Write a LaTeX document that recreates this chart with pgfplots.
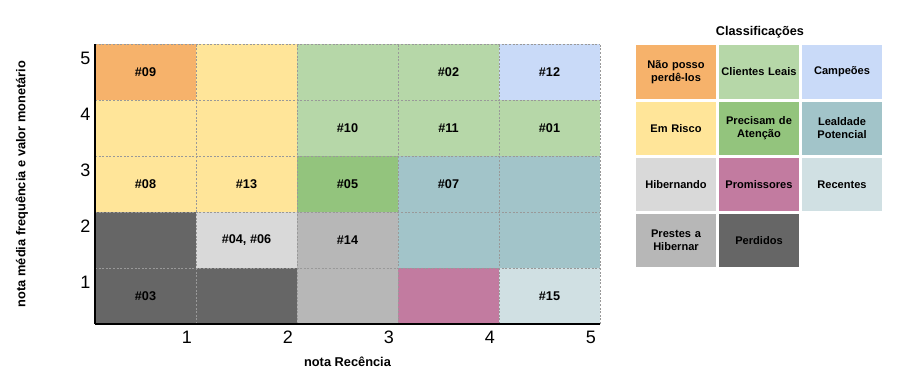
\documentclass[border=0pt]{standalone}
\usepackage{fontspec}
\setmainfont{Liberation Sans}
\usepackage{pgfplots}
\pgfplotsset{compat=1.18}
\definecolor{cOrange}{HTML}{F6B26B}
\definecolor{cYellow}{HTML}{FFE599}
\definecolor{cLGreen}{HTML}{B6D7A8}
\definecolor{cBlue}{HTML}{C9DAF8}
\definecolor{cGreen}{HTML}{93C47D}
\definecolor{cTeal}{HTML}{A2C4C9}
\definecolor{cLGray}{HTML}{D9D9D9}
\definecolor{cPink}{HTML}{C27BA0}
\definecolor{cRec}{HTML}{D0E0E3}
\definecolor{cGray}{HTML}{B7B7B7}
\definecolor{cDGray}{HTML}{666666}
\newcommand\lbox[4]{\node[fill=#3, minimum width=60pt, minimum height=40pt, inner sep=0pt, align=center, text width=58pt, font=\fontsize{8.3}{9.8}\selectfont\bfseries] at (#1,#2) {#4};}
\begin{document}
\begin{tikzpicture}
\useasboundingbox (0pt,0pt) rectangle (675pt,284.25pt);
\begin{axis}[
  at={(71.25pt,41.25pt)}, anchor=south west,
  scale only axis, width=378.75pt, height=210pt,
  xmin=0, xmax=5, ymin=0, ymax=5,
  xtick={1,2,3,4,5}, ytick={1,2,3,4,5},
  axis x line*=bottom, axis y line*=left,
  axis line style={-, line width=1.5pt, black},
  major tick length=0pt,
  grid=major,
  major grid style={dash pattern=on 1.5pt off 1.2pt, color=gray!80, line width=0.6pt},
  axis on top,
  /pgf/number format/assume math mode=true,
  ticklabel style={font=\fontsize{13.5}{14}\selectfont},
  xticklabel style={xshift=-6.75pt, yshift=-2pt},
  yticklabel style={yshift=-10.5pt, xshift=0pt},
  xlabel={nota Recência},
  ylabel={nota média frequência e valor monetário},
  label style={font=\fontsize{9.6}{10}\selectfont\bfseries},
  xlabel style={at={(axis description cs:0.5,-0.1357)}, anchor=center},
  ylabel style={at={(axis description cs:-0.1446,0.5)}, anchor=center},
  clip=false,
]
% row 5
\addplot[fill=cOrange, draw=none] coordinates {(0,4) (1,4) (1,5) (0,5)} -- cycle;
\addplot[fill=cYellow, draw=none] coordinates {(1,4) (2,4) (2,5) (1,5)} -- cycle;
\addplot[fill=cLGreen, draw=none] coordinates {(2,4) (3,4) (3,5) (2,5)} -- cycle;
\addplot[fill=cLGreen, draw=none] coordinates {(3,4) (4,4) (4,5) (3,5)} -- cycle;
\addplot[fill=cBlue, draw=none] coordinates {(4,4) (5,4) (5,5) (4,5)} -- cycle;
% row 4
\addplot[fill=cYellow, draw=none] coordinates {(0,3) (1,3) (1,4) (0,4)} -- cycle;
\addplot[fill=cYellow, draw=none] coordinates {(1,3) (2,3) (2,4) (1,4)} -- cycle;
\addplot[fill=cLGreen, draw=none] coordinates {(2,3) (3,3) (3,4) (2,4)} -- cycle;
\addplot[fill=cLGreen, draw=none] coordinates {(3,3) (4,3) (4,4) (3,4)} -- cycle;
\addplot[fill=cLGreen, draw=none] coordinates {(4,3) (5,3) (5,4) (4,4)} -- cycle;
% row 3
\addplot[fill=cYellow, draw=none] coordinates {(0,2) (1,2) (1,3) (0,3)} -- cycle;
\addplot[fill=cYellow, draw=none] coordinates {(1,2) (2,2) (2,3) (1,3)} -- cycle;
\addplot[fill=cGreen, draw=none] coordinates {(2,2) (3,2) (3,3) (2,3)} -- cycle;
\addplot[fill=cTeal, draw=none] coordinates {(3,2) (4,2) (4,3) (3,3)} -- cycle;
\addplot[fill=cTeal, draw=none] coordinates {(4,2) (5,2) (5,3) (4,3)} -- cycle;
% row 2
\addplot[fill=cDGray, draw=none] coordinates {(0,1) (1,1) (1,2) (0,2)} -- cycle;
\addplot[fill=cLGray, draw=none] coordinates {(1,1) (2,1) (2,2) (1,2)} -- cycle;
\addplot[fill=cGray, draw=none] coordinates {(2,1) (3,1) (3,2) (2,2)} -- cycle;
\addplot[fill=cTeal, draw=none] coordinates {(3,1) (4,1) (4,2) (3,2)} -- cycle;
\addplot[fill=cTeal, draw=none] coordinates {(4,1) (5,1) (5,2) (4,2)} -- cycle;
% row 1
\addplot[fill=cDGray, draw=none] coordinates {(0,0) (1,0) (1,1) (0,1)} -- cycle;
\addplot[fill=cDGray, draw=none] coordinates {(1,0) (2,0) (2,1) (1,1)} -- cycle;
\addplot[fill=cGray, draw=none] coordinates {(2,0) (3,0) (3,1) (2,1)} -- cycle;
\addplot[fill=cPink, draw=none] coordinates {(3,0) (4,0) (4,1) (3,1)} -- cycle;
\addplot[fill=cRec, draw=none] coordinates {(4,0) (5,0) (5,1) (4,1)} -- cycle;
% labels
\addplot[draw=none, mark=none, nodes near coords, point meta=explicit symbolic,
  every node near coord/.style={anchor=center, font=\fontsize{9.5}{10}\selectfont\bfseries}]
  coordinates {
  (0.5,4.5) [\#09]
  (3.5,4.5) [\#02]
  (4.5,4.5) [\#12]
  (2.5,3.5) [\#10]
  (3.5,3.5) [\#11]
  (4.5,3.5) [\#01]
  (0.5,2.5) [\#08]
  (1.5,2.5) [\#13]
  (2.5,2.5) [\#05]
  (3.5,2.5) [\#07]
  (1.5,1.5) [{\#04, \#06}]
  (2.5,1.5) [\#14]
  (0.5,0.5) [\#03]
  (4.5,0.5) [\#15]
  };
\end{axis}
\node[font=\fontsize{9.5}{10}\selectfont\bfseries] at (570pt,260.25pt) {Classificações};
\lbox{507pt}{230.25pt}{cOrange}{Não posso\\perdê-los}
\lbox{569.25pt}{230.25pt}{cLGreen}{Clientes Leais}
\lbox{631.5pt}{230.25pt}{cBlue}{Campeões}
\lbox{507pt}{187.875pt}{cYellow}{Em Risco}
\lbox{569.25pt}{187.875pt}{cGreen}{Precisam de\\Atenção}
\lbox{631.5pt}{187.875pt}{cTeal}{Lealdade\\Potencial}
\lbox{507pt}{145.875pt}{cLGray}{Hibernando}
\lbox{569.25pt}{145.875pt}{cPink}{Promissores}
\lbox{631.5pt}{145.875pt}{cRec}{Recentes}
\lbox{507pt}{103.875pt}{cGray}{Prestes a\\Hibernar}
\lbox{569.25pt}{103.875pt}{cDGray}{Perdidos}
\end{tikzpicture}
\end{document}
